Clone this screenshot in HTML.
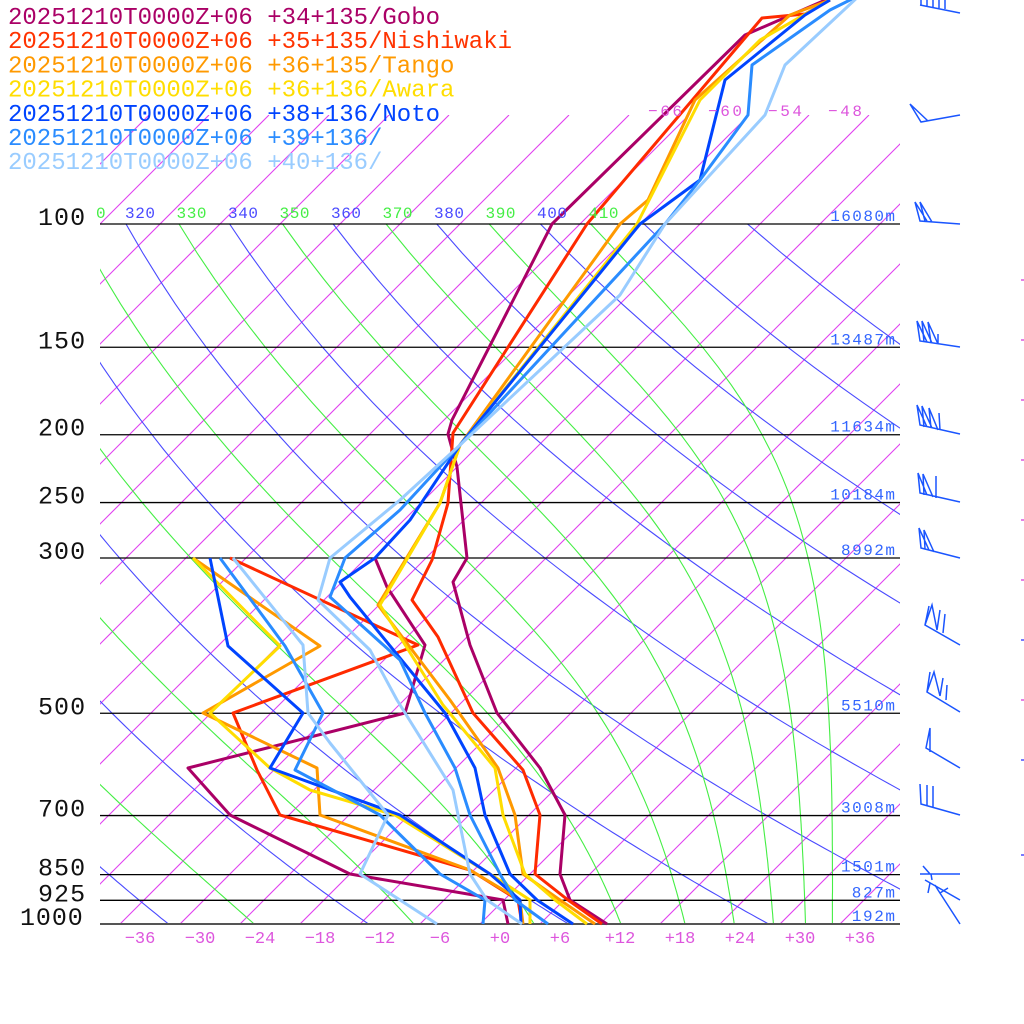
<!DOCTYPE html>
<html><head><meta charset="utf-8"><style>
html,body{margin:0;padding:0;background:#fff;}
svg{display:block;}
text{font-family:"Liberation Mono",monospace;}
</style></head><body>
<svg id="s" width="1024" height="1024" xmlns="http://www.w3.org/2000/svg">
<defs>
<clipPath id="cp"><rect x="100" y="224" width="800" height="700"/></clipPath>
<clipPath id="ci"><rect x="100" y="115" width="800" height="809"/></clipPath>
</defs>
<g id="grid"></g>
<g id="data" fill="none" stroke-width="3" stroke-linejoin="round"></g>
<g id="txt"></g>
<g id="barbs" fill="none" stroke="#1a55ff" stroke-width="1.5"></g>
</svg>
<script>
const NS="http://www.w3.org/2000/svg";
function el(p,tag,attrs,txt){const e=document.createElementNS(NS,tag);for(const k in attrs)e.setAttribute(k,attrs[k]);if(txt!==undefined)e.textContent=txt;p.appendChild(e);return e;}
const G=document.getElementById('grid'),D=document.getElementById('data'),T=document.getElementById('txt'),B=document.getElementById('barbs');
function Y(p){return 224+700*Math.log10(p/100);}
function X(t,y){return 500+10*t+(924-y);}
// isotherms
const gi=el(G,'g',{'clip-path':'url(#ci)'});
for(let t=-140;t<=60;t+=6){const y1=924,y2=115;el(gi,'line',{x1:X(t,y1),y1:y1,x2:X(t,y2),y2:y2,stroke:'#e040f0','stroke-width':1.1});}
const gp=el(G,'g',{'clip-path':'url(#cp)'});
// dry adiabats (blue)
for(let v=200;v<=440;v+=20){
  let d='';
  for(let p=1000;p>=100;p-=10){const tc=v*Math.pow(p/1000,0.2857)-273.15;const y=Y(p);const x=X(tc,y);d+=(d?'L':'M')+x.toFixed(1)+','+y.toFixed(1);}
  el(gp,'path',{d:d,fill:'none',stroke:'#4a4aff','stroke-width':1.1});
}
// moist adiabats (green)
function es(tc){return 6.112*Math.exp(17.67*tc/(tc+243.5));}
function thetae(TK,p){const tc=TK-273.15;const e=es(tc);const r=622*e/(p-e);const th=TK*Math.pow(1000/p,0.2854*(1-0.00028*r));return th*Math.exp((3.376/TK-0.00254)*r*(1+0.00081*r));}
for(let v=210;v<=410;v+=20){
  let d='';
  for(let p=1000;p>=100;p-=10){
    let lo=150,hi=330;
    for(let i=0;i<50;i++){const m=(lo+hi)/2;if(thetae(m,p)>v)hi=m;else lo=m;}
    const tc=(lo+hi)/2-273.15;const y=Y(p);const x=X(tc,y);
    d+=(d?'L':'M')+x.toFixed(1)+','+y.toFixed(1);
  }
  el(gp,'path',{d:d,fill:'none',stroke:'#44ee44','stroke-width':1.1});
}
// pressure lines
[100,150,200,250,300,500,700,850,925].forEach(p=>{el(G,'line',{x1:100,x2:900,y1:Y(p),y2:Y(p),stroke:'#000','stroke-width':1.3});});
el(G,'line',{x1:100,x2:900,y1:924,y2:924,stroke:'#555','stroke-width':2});
// data
const series=[
['#aa0066',[[607,924],[570,900],[560,874],[565,815],[540,768],[497,713],[470,645],[453,582],[467,558],[457,467],[448,434],[452,420],[552,224],[745,35],[830,-2]]],
['#aa0066',[[508,924],[503,900],[350,874],[230,815],[188,768],[405,713],[425,645],[387,587],[375,558]]],
['#ff2a00',[[602,924],[568,900],[535,874],[540,815],[523,770],[473,713],[438,637],[412,600],[432,560],[448,503],[453,433],[587,224],[762,18],[805,14],[830,0]]],
['#ff2a00',[[522,924],[518,900],[470,870],[280,815],[257,770],[233,713],[418,645],[230,558]]],
['#ff9900',[[595,924],[560,900],[523,874],[515,815],[498,768],[450,700],[378,605],[440,503],[460,445],[620,224],[648,200],[695,100],[790,15],[830,0]]],
['#ff9900',[[523,924],[520,900],[470,870],[320,815],[317,768],[203,713],[320,646],[193,558]]],
['#ffdd00',[[587,924],[555,900],[525,874],[503,815],[495,768],[443,705],[380,605],[440,503],[460,445],[637,224],[700,100],[760,40],[830,0]]],
['#ffdd00',[[530,924],[530,900],[490,874],[395,815],[310,790],[270,768],[210,713],[280,646],[193,558]]],
['#0044ff',[[573,924],[537,900],[510,874],[485,815],[475,768],[445,713],[350,597],[340,582],[375,558],[410,520],[460,445],[640,224],[700,180],[725,80],[805,15],[830,0]]],
['#0044ff',[[521,924],[520,900],[490,874],[400,815],[270,768],[303,713],[228,646],[210,558]]],
['#2a8cff',[[548,924],[515,900],[500,874],[470,815],[455,768],[425,713],[400,660],[330,597],[345,558],[400,510],[460,445],[665,224],[700,180],[748,115],[752,65],[830,10],[860,-5]]],
['#2a8cff',[[483,924],[485,900],[440,874],[380,815],[295,770],[323,713],[285,646],[220,558]]],
['#99ccff',[[522,924],[487,900],[470,874],[453,790],[397,700],[370,650],[318,600],[330,558],[400,500],[460,445],[620,295],[665,224],[765,115],[785,65],[860,-5]]],
['#99ccff',[[437,924],[400,900],[360,874],[388,815],[330,743],[308,713],[303,645],[233,558]]]
];
series.forEach(s=>{el(D,'polyline',{points:s[1].map(p=>p.join(',')).join(' '),stroke:s[0]});});
// legend
const leg=[['#aa0066','20251210T0000Z+06 +34+135/Gobo'],['#ff3300','20251210T0000Z+06 +35+135/Nishiwaki'],['#ff9900','20251210T0000Z+06 +36+135/Tango'],['#ffdd00','20251210T0000Z+06 +36+136/Awara'],['#0044ff','20251210T0000Z+06 +38+136/Noto'],['#2a8cff','20251210T0000Z+06 +39+136/'],['#99ccff','20251210T0000Z+06 +40+136/']];
leg.forEach((l,i)=>{el(T,'text',{x:8,y:24+i*24.2,fill:l[0],'font-size':24,'textLength':l[1].length*14.4},l[1]);});
// pressure labels
[[100,'100',38],[150,'150',38],[200,'200',38],[250,'250',38],[300,'300',38],[500,'500',38],[700,'700',38],[850,'850',38],[925,'925',38],[1000,'1000',20]].forEach(a=>{el(T,'text',{x:a[2],y:Y(a[0])+1,fill:'#111','font-size':25,textLength:a[1].length*15.7},a[1]);});
// theta labels
el(T,'text',{x:96,y:218,fill:'#44ee44','font-size':16},'0');
for(let i=0;i<10;i++){const v=320+i*10;el(T,'text',{x:125+i*51.5,y:218,fill:(i%2==0)?'#4a4aff':'#44ee44','font-size':16,textLength:30},String(v));}
// isotherm labels
[['-66',648],['-60',708],['-54',768],['-48',828]].forEach(a=>{el(T,'text',{x:a[1],y:116,fill:'#dd55dd','font-size':16,textLength:34},a[0].replace('-','−'));});
// bottom ticks
for(let t=-36;t<=36;t+=6){const s=(t<0?'−':'+')+Math.abs(t);el(T,'text',{x:500+10*t,y:943,fill:'#dd55dd','font-size':17,'text-anchor':'middle'},s);}
// heights
[[100,'16080m'],[150,'13487m'],[200,'11634m'],[250,'10184m'],[300,'8992m'],[500,'5510m'],[700,'3008m'],[850,'1501m'],[925,'827m'],[1000,'192m']].forEach(a=>{el(T,'text',{x:895,y:Y(a[0])-3,fill:'#3366ff','font-size':16,'text-anchor':'end',textLength:a[1].length*10.8},a[1]);});
// right dashes
[[280,'#dd55dd'],[340,'#dd55dd'],[400,'#dd55dd'],[460,'#dd55dd'],[520,'#dd55dd'],[580,'#dd55dd'],[640,'#4a4aff'],[700,'#dd55dd'],[760,'#4a4aff'],[855,'#4a4aff']].forEach(a=>{el(G,'line',{x1:1021,x2:1024,y1:a[0],y2:a[0],stroke:a[1],'stroke-width':1.5});});
// barbs
const bp=[
'M960,13 L920,5 M921,5 L921,-2 M927,6 L927,-2 M933,7 L933,-2 M939,8 L939,-2 M945,9 L945,-2',
'M960,115 L921,122 L910,104 L928,121',
'M960,224 L920,221 L915,202 L927,221 M925,221 L920,202 L932,222',
'M960,347 L920,341 L917,321 L927,342 M924,342 L922,321 L932,343 M931,343 L928,322 L938,344 M938,344 L938,334',
'M960,434 L920,425 L917,405 L927,427 M924,427 L922,406 L932,428 M931,428 L929,408 L938,430 M940,430 L939,413',
'M960,502 L920,493 L918,473 L927,495 M924,495 L923,474 L933,497 M936,498 L936,476',
'M960,558 L921,548 L919,528 L929,550 M925,549 L924,530 L934,552',
'M960,645 L925,625 L929,606 M925,625 L932,605 L937,630 M937,630 L940,610 M943,633 L945,614',
'M960,712 L927,692 L930,672 M927,692 L934,672 L940,696 M940,696 L943,678 M946,700 L947,685',
'M960,768 L926,748 L930,728 L930,752',
'M960,815 L921,804 L920,784 M927,806 L927,785 M933,807 L933,786',
'M960,874 L920,874 M930,874 L923,866 M931,874 L932,880',
'M960,900 L925,880 M930,883 L928,893',
'M960,924 L938,890 M940,893 L948,888 M938,890 L935,885'
];
bp.forEach(d=>el(B,'path',{d:d}));
</script>
</body></html>
